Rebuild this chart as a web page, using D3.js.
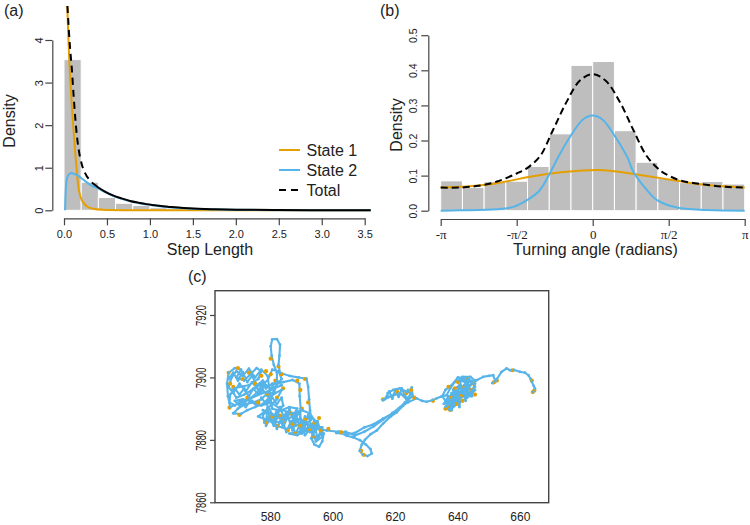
<!DOCTYPE html>
<html><head><meta charset="utf-8">
<script src="https://cdn.jsdelivr.net/npm/d3@7"></script>
<style>body{margin:0;background:#fff} svg{display:block}</style>
</head><body><svg id="c" width="750" height="525"></svg>
<script>
// ---------- DATA ----------
// (a) step length histogram (bin starts, width 0.2) and fitted densities
const stepBinStart = [0.0,0.2,0.4,0.6,0.8,1.0,1.2,1.4,1.6,1.8];
const stepDensity  = [3.54,0.66,0.30,0.165,0.115,0.06,0.035,0.02,0.012,0.008];
const stepBinWidth = 0.2;
const stepState1 = [[0.038,4.8],[0.045,4.4],[0.052,4.0],[0.062,3.5],[0.075,3.0],[0.09,2.5],[0.105,2.05],[0.12,1.65],[0.135,1.25],[0.148,0.95],[0.167,0.55],[0.19,0.33],[0.225,0.18],[0.27,0.09],[0.34,0.035],[0.45,0.012],[0.7,0.003],[1.0,0.001],[1.6,0],[3.57,0]];
const stepState2 = [[0.012,0],[0.018,0.35],[0.025,0.6],[0.035,0.74],[0.05,0.82],[0.07,0.86],[0.09,0.875],[0.11,0.86],[0.148,0.83],[0.2,0.76],[0.25,0.68],[0.32,0.58],[0.4,0.51],[0.477,0.43],[0.57,0.34],[0.67,0.27],[0.77,0.21],[0.865,0.17],[0.96,0.135],[1.06,0.11],[1.25,0.067],[1.45,0.04],[1.76,0.02],[2.0,0.012],[2.5,0.004],[3.0,0.002],[3.57,0.001]];
const stepTotal = [[0.04,4.8],[0.05,4.45],[0.062,4.05],[0.075,3.7],[0.09,3.35],[0.11,2.75],[0.13,2.2],[0.15,1.75],[0.17,1.44],[0.19,1.22],[0.21,1.06],[0.23,0.94],[0.26,0.82],[0.3,0.71],[0.35,0.61],[0.4,0.535],[0.477,0.44],[0.57,0.35],[0.67,0.28],[0.77,0.22],[0.865,0.18],[0.96,0.145],[1.06,0.12],[1.25,0.075],[1.45,0.047],[1.76,0.025],[2.0,0.015],[2.5,0.006],[3.0,0.003],[3.57,0.001]];
const stepTicks = [0,0.5,1.0,1.5,2.0,2.5,3.0,3.5];
const stepDensityTicks = [0,1,2,3,4];
const legendLabels = ["State 1","State 2","Total"];

// (b) turning angle histogram (14 bins from -pi to pi) and fitted densities
const angleBinStart = [-3.1416,-2.6928,-2.2440,-1.7952,-1.3464,-0.8976,-0.4488,0.0,0.4488,0.8976,1.3464,1.7952,2.2440,2.6928];
const angleDensity  = [0.085,0.066,0.083,0.084,0.126,0.219,0.414,0.425,0.228,0.138,0.092,0.080,0.083,0.076];
const angleBinWidth = 0.4488;
const angleState1 = [[-3.1416,0.066],[-2.6,0.069],[-1.98,0.078],[-1.3,0.097],[-0.61,0.11],[0.1,0.116],[0.36,0.114],[0.98,0.102],[1.67,0.087],[2.36,0.073],[3.1416,0.066]];
const angleState2 = [[-3.1416,0],[-2.76,0.001],[-1.98,0.004],[-1.64,0.011],[-1.3,0.035],[-1.09,0.059],[-0.85,0.116],[-0.71,0.154],[-0.4,0.225],[-0.2,0.26],[0,0.271],[0.2,0.26],[0.4,0.225],[0.71,0.154],[0.84,0.111],[1.12,0.059],[1.33,0.03],[1.74,0.009],[2.36,0.002],[3.1416,0]];
const angleTotal = [[-3.1416,0.066],[-2.75,0.066],[-2.36,0.071],[-1.98,0.083],[-1.57,0.106],[-1.37,0.12],[-1.09,0.155],[-0.82,0.23],[-0.54,0.31],[-0.27,0.37],[0,0.389],[0.27,0.37],[0.56,0.31],[0.84,0.23],[1.12,0.155],[1.4,0.114],[1.57,0.1],[1.81,0.086],[2.29,0.075],[2.75,0.068],[3.1416,0.066]];
const angleTicks = [-3.1416,-1.5708,0,1.5708,3.1416];
const angleTickLabels = ["-\u03c0","-\u03c0/2","0","\u03c0/2","\u03c0"];
const angleDensityTicks = [0,0.1,0.2,0.3,0.4,0.5];

// (c) track (x, y) and state-1 locations
const trackPoints = [
[566.5,7899.5],[568,7901.5],[569.5,7899],[571,7901.8],[572.5,7898.5],[574,7900.5],[575.5,7897.5],[577.5,7899],[578.5,7896.5],[580.5,7898],[581,7895.5],[579,7894],[577.5,7896],[576,7894.5],[574.5,7896.5],[573,7894],[571.5,7896.5],[570,7894.5],[568.5,7896.5],[567,7894.5],[566.8,7892],[568.5,7891],[570.5,7892.5],[572,7890.5],[573.5,7892.5],[575.5,7891],[577,7893.5],[578.5,7891.5],[580.5,7893.5],[582,7891.5],[583.5,7893.5],[584,7891],[582.5,7889.5],[580.5,7890],
[579,7900.5],[577,7902.5],[575,7900],[573,7902.8],[571,7900.5],[569,7902],[567.5,7900],[566.5,7897],[568,7895],[570,7898],[572,7895.5],[574,7898.5],[576,7896],[578,7898],[580,7896.5],[582,7899],[583.5,7897.5],
[567.0,7890.5],[566.3,7894.0],[566.0,7898.0],[566.5,7901.5],[568.5,7903.0],[570.5,7902.5],[569.0,7900.0],[571.5,7899.0],[573.5,7901.0],[575.5,7903.0],[577.0,7902.0],[576.0,7899.5],[573.0,7897.5],[570.0,7897.0],[567.5,7896.0],[569.0,7893.5],[571.5,7894.5],[574.0,7896.0],[576.5,7897.5],[579.0,7899.0],[580.5,7902.5],[582.5,7902.0],[583.5,7899.5],[581.5,7897.0],[579.0,7895.0],[577.0,7893.0],[574.5,7892.0],[572.0,7891.5],[569.5,7890.0],[568.0,7888.5],[570.5,7888.3],[572.5,7889.5],[575.0,7890.5],[577.5,7891.5],[579.5,7893.5],[581.5,7895.0],[583.5,7896.0],[582.0,7893.0],[580.0,7891.0],[578.0,7889.0],[576.0,7887.5],
[578.5,7886.5],[581.0,7888.0],[583.5,7889.5],[586.0,7890.5],[588.5,7890.0],[587.0,7887.5],[584.0,7886.0],[581.0,7885.5],[579.0,7886.5],[582.0,7884.5],[585.0,7883.5],[588.0,7884.5],[590.5,7886.0],[593.0,7887.5],[594.5,7886.0],[592.0,7884.0],[589.0,7882.5],[586.0,7882.0],[588.5,7881.5],[591.5,7883.0],[594.0,7884.5],[596.5,7884.0],[595.5,7881.5],[593.0,7880.5],[594.0,7878.5],[595.5,7877.8],[596.5,7879.5],[597.0,7882.0],[595.0,7885.0],[592.5,7888.5],[590.0,7889.5],[587.0,7888.5],[584.5,7887.5],[582.0,7887.0],[580.0,7888.5],[577.5,7889.5],
[579,7889],[580.5,7886],[582,7889.5],[583.5,7885.5],[585,7889],[586.5,7884.5],[588,7888.5],[589.5,7883.5],[591,7887.5],[592.5,7882.5],[594,7886],[595,7880],[596.5,7883.5],[595,7884.5],[593.5,7881.5],[591.5,7885.5],[590,7882],[588.5,7886.5],[587,7883],[585.5,7887.5],[584,7884],[582.5,7888],[581,7884.5],[579.5,7887.5],[578,7885.5],[577.5,7888],
[579.5,7890],[581.5,7886.5],[583,7890.5],[584.5,7886.5],[586,7890],[587.5,7885.5],[589,7889],[590.5,7884],[592,7888],[593.5,7883],[595,7886],[596.5,7881],[594.5,7879.5],[593,7884],[591,7881.5],[589.5,7885.5],[588,7881.8],[586.5,7886],[585,7882.5],[583.5,7887],[582,7883.5],[580.5,7888],[578.5,7884.5],
[579.0,7892.0],[581.0,7895.0],[582.0,7898.0],[582.0,7901.5],[581.0,7904.0],[580.3,7907.0],[580.0,7910.0],[580.5,7912.2],[582.0,7912.3],[583.0,7910.5],[582.8,7907.0],[582.5,7904.0],[583.0,7901.5],[586.0,7900.5],[589.0,7900.0],[591.5,7899.6],[592.0,7897.0],[592.3,7893.0],[592.6,7889.5],[593.0,7886.5],[591.0,7885.0],[589.5,7887.0],[589.6,7890.0],[589.3,7894.0],[589.2,7898.0],[587.0,7899.2],[584.0,7898.5],[581.0,7898.0],[578.0,7897.0],
[575.5,7895.0],[573.0,7893.0],[570.0,7891.0],[568.5,7892.5],[571.0,7893.0],[574.0,7892.5],[577.0,7891.0],[580.0,7892.0],[583.0,7890.0],[586.0,7888.5],[589.0,7886.5],[592.0,7885.0],[595.0,7883.5],
[598.0,7883.0],[601.7,7882.6],[604.4,7881.3],[606.5,7880.8],[608.6,7879.9],[610.5,7878.5],[612.0,7877.0],[612.4,7875.6],[611.0,7874.8],[609.5,7875.3],[608.5,7876.5],[609.2,7878.5],[610.2,7880.0],[612.0,7881.8],[614.0,7883.0],[616.1,7885.3],[618.5,7887.5],[620.4,7888.8],[622.5,7891.0],[624.1,7892.7],[623.0,7894.2],[621.0,7894.8],[618.5,7894.0],[616.0,7892.7],
[616.5,7893],[618,7895.5],[619,7893.2],[620,7896.2],[621,7893.8],[622,7896.5],[623,7894],[624,7896],[624.8,7894.5],[623.5,7893],[621.5,7895],[619.5,7894.5],[617.5,7893.5],
[617.5,7895.0],[619.3,7896.0],[621.4,7896.5],[623.6,7895.4],[625.2,7894.9],[625.2,7896.8],[625.5,7894.0],[623.0,7892.0],[621.0,7890.0],[619.0,7888.5],[616.0,7886.8],[613.0,7885.0],[610.0,7884.0],[607.0,7882.2],[604.0,7881.8],[601.0,7882.2],[604.0,7882.6],[607.0,7881.4],[610.0,7882.6],[613.0,7884.3],[616.0,7886.5],[619.0,7888.6],[621.5,7890.5],[624.0,7892.0],[626.8,7893.3],[628.5,7892.5],[630.0,7892.2],[632.0,7892.8],[633.2,7893.3],[634.5,7893.8],[636.4,7894.3],
[637.5,7896.5],[639.0,7898.5],[641.0,7899.5],[643.0,7899.0],[642.0,7896.5],[640.0,7895.0],[638.0,7893.0],[636.5,7891.0],[637.5,7889.8],[639.0,7891.5],[641.0,7893.5],[643.5,7895.0],[645.5,7897.0],[644.5,7898.8],[642.5,7900.0],[640.0,7900.0],[638.0,7897.5],[636.0,7896.0],[635.0,7894.0],[636.0,7892.5],[638.5,7894.5],[640.5,7896.5],[642.5,7897.5],[644.5,7896.0],[643.0,7893.5],[640.5,7892.0],[638.5,7890.5],[637.0,7889.8],[639.5,7893.0],[642.0,7895.5],[644.0,7897.5],
[635.5,7891.5],[637,7894],[636.5,7891],[638.5,7893.5],[637.5,7890],[639.5,7892.5],[638.5,7896],[640.5,7897.5],[639.5,7894],[641.5,7896],[640.5,7899],[642.5,7898.5],[641.5,7895],[643.5,7897],[642.5,7893.5],[644.5,7895.5],[645.5,7898],[643.5,7899.5],[642,7897.5],[640,7896],[638,7895],[637,7892.5],[636,7890.5],[638,7891.5],[640,7893],[642,7894.5],[644,7894],[645.5,7896],
[636.5,7893],[638,7889.5],[639,7894.5],[640.5,7890.5],[641,7897],[642.5,7892.5],[643,7899],[644.5,7894],[645.5,7899],[644,7900.2],[641.5,7900.2],[644.5,7898],
[646.0,7899.1],[648.1,7900.2],[650.0,7900.5],[651.3,7900.7],[652.0,7898.8],[651.0,7898.2],[652.5,7899.5],[654.0,7901.8],[655.6,7902.9],[656.7,7902.3],[658.0,7902.4],[659.9,7901.8],[661.5,7901.5],[662.6,7900.7],[663.3,7899.5],[663.7,7898.6],[664.3,7897.3],[664.7,7896.5],[664.2,7895.4]
];
const state1Points = [
[566.5,7901.5],[567,7898],[568,7897],[569.5,7903],[571,7899.5],[573,7901.5],[575,7898],[577,7900.5],[578.5,7902],[580,7901],[581.5,7899],[583.5,7901],[566.8,7890.3],[570,7888],[572.5,7893.5],[576,7892],[579,7894.5],[582,7893.5],[584,7896.5],[588.5,7899],[591,7899.5],[589.5,7896],[592,7892],[590,7890],
[578.5,7885.5],[580.5,7887.5],[582,7884.5],[584,7886],[585.5,7883],[587,7885],[588,7882],[589.5,7884.5],[591,7886.5],[592.5,7883.5],[594,7885.5],[595.5,7887],[593.5,7881],[596,7883],[586.5,7888.5],[583,7887.8],
[598.5,7883.5],[602.5,7882.5],[609,7876.5],[609.8,7875.2],[616,7893],[620.5,7895.5],[623.5,7895],[625,7896],[626,7893.5],[632,7892.5],
[636,7890],[636.5,7890.6],[637.5,7889.6],[638,7893.5],[639,7896.5],[640,7898.5],[641,7894],[642,7897],[643,7899.5],[644.5,7896],[645,7898],[637,7897],[639.5,7891.5],[641.5,7892.5],[645.5,7894.5],
[651.5,7898.4],[652.5,7899],[657.5,7902.3],[663.7,7899],[664,7895.3],[664.5,7895.8],[580,7906],[582.5,7903.5]
];
const trackXTicks = [580,600,620,640,660];
const trackYTicks = [7860,7880,7900,7920];

// ---------- STYLE ----------
const FONT = '"Liberation Sans", Arial, Helvetica, sans-serif';
const ORANGE = "#E69F00", BLUE = "#56B4E9", BAR = "#BEBEBE", AX = "#444", TXT = "#222";
const svg = d3.select("#c");

function styleAxis(g, size){
  g.selectAll("path,line").attr("stroke", AX).attr("stroke-width", 1.2);
  g.selectAll("text").attr("fill", TXT).style("font-size", (size||11)+"px").style("font-family", FONT);
}
function rotLabels(g, off){
  g.selectAll("text").attr("x",0).attr("dy","0").attr("text-anchor","middle")
    .attr("transform", `translate(${off},0) rotate(-90)`);
}
function label(txt, x, y, opts){
  opts = opts||{};
  const t = svg.append("text").text(txt).attr("x",x).attr("y",y)
    .attr("fill",TXT).style("font-family",FONT).style("font-size",(opts.size||16)+"px")
    .attr("text-anchor",opts.anchor||"start");
  if(opts.rot) t.attr("x",0).attr("y",0).attr("transform",`translate(${x},${y}) rotate(-90)`);
  return t;
}

// ---------- PANEL (a) ----------
const xA = d3.scaleLinear().domain([0,3.5]).range([64,364.7]);
const yA = d3.scaleLinear().domain([0,4]).range([210.3,40]);
const gA = svg.append("g");
gA.selectAll("rect").data(stepBinStart).join("rect")
  .attr("x", d=>xA(d)).attr("width", xA(stepBinWidth)-xA(0))
  .attr("y", (d,i)=>yA(stepDensity[i])).attr("height",(d,i)=>yA(0)-yA(stepDensity[i]))
  .attr("fill",BAR).attr("stroke","#fff").attr("stroke-width",1);
const lineA = d3.line().x(d=>xA(d[0])).y(d=>yA(d[1])).curve(d3.curveMonotoneX);
gA.append("path").attr("d",lineA(stepState1)).attr("fill","none").attr("stroke",ORANGE).attr("stroke-width",2);
gA.append("path").attr("d",lineA(stepState2)).attr("fill","none").attr("stroke",BLUE).attr("stroke-width",2);
const totA = gA.append("path").attr("d",lineA(stepTotal)).attr("fill","none").attr("stroke","#000").attr("stroke-width",2);
// dashes visible on the steep part only, solid on the flat tail (as in the reference)
(function(){
  const node = totA.node(), L = node.getTotalLength(), xCut = xA(0.27);
  let lo = 0, hi = L;
  for (let k=0;k<40;k++){ const m=(lo+hi)/2; if (node.getPointAtLength(m).x < xCut) lo=m; else hi=m; }
  const arr=[]; let s=0;
  while (s < lo){ arr.push(7,5); s+=12; }
  arr.push(L+20, 0);
  totA.attr("stroke-dasharray", arr.join(","));
})();

const axA = svg.append("g").attr("transform","translate(0,218.3)")
  .call(d3.axisBottom(xA).tickValues(stepTicks).tickFormat(d3.format(".1f")).tickSize(7).tickSizeOuter(0).tickPadding(5));
styleAxis(axA);
const ayA = svg.append("g").attr("transform","translate(52.3,0)")
  .call(d3.axisLeft(yA).tickValues(stepDensityTicks).tickFormat(d3.format("d")).tickSize(7).tickSizeOuter(0));
styleAxis(ayA); rotLabels(ayA,-9.5);
label("Density", 14.5, 121, {rot:true, anchor:"middle"});
label("Step Length", 210, 255, {anchor:"middle"});
label("(a)", 4, 16);
// legend
const legColors = [ORANGE, BLUE, "#000"];
legendLabels.forEach((t,i)=>{
  const y = 150 + i*20;
  svg.append("line").attr("x1",279).attr("x2",300).attr("y1",y).attr("y2",y)
    .attr("stroke",legColors[i]).attr("stroke-width",2).attr("stroke-dasharray", i===2?"7,5":null);
  label(t, 306.5, y+5.5);
});

// ---------- PANEL (b) ----------
const xB = d3.scaleLinear().domain([-Math.PI, Math.PI]).range([440.7,744.7]);
const yB = d3.scaleLinear().domain([0,0.5]).range([210.7,35.2]);
const gB = svg.append("g");
gB.selectAll("rect").data(angleBinStart).join("rect")
  .attr("x", d=>xB(d)).attr("width", xB(angleBinWidth)-xB(0))
  .attr("y", (d,i)=>yB(angleDensity[i])).attr("height",(d,i)=>yB(0)-yB(angleDensity[i]))
  .attr("fill",BAR).attr("stroke","#fff").attr("stroke-width",1);
const lineB = d3.line().x(d=>xB(d[0])).y(d=>yB(d[1])).curve(d3.curveCatmullRom.alpha(0.5));
gB.append("path").attr("d",lineB(angleState1)).attr("fill","none").attr("stroke",ORANGE).attr("stroke-width",2);
gB.append("path").attr("d",lineB(angleState2)).attr("fill","none").attr("stroke",BLUE).attr("stroke-width",2);
gB.append("path").attr("d",lineB(angleTotal)).attr("fill","none").attr("stroke","#000").attr("stroke-width",2).attr("stroke-dasharray","7,4");

const axB = svg.append("g").attr("transform","translate(0,219)")
  .call(d3.axisBottom(xB).tickValues(angleTicks).tickFormat((d,i)=>angleTickLabels[i]).tickSize(7).tickSizeOuter(0).tickPadding(4));
styleAxis(axB, 13);
axB.selectAll("text").style("font-family",'"Liberation Serif", "DejaVu Serif", serif');
const ayB = svg.append("g").attr("transform","translate(428.3,0)")
  .call(d3.axisLeft(yB).tickValues(angleDensityTicks).tickFormat(d3.format(".1f")).tickSize(7).tickSizeOuter(0));
styleAxis(ayB, 10.5); rotLabels(ayB,-11.5);
label("Density", 401.5, 125, {rot:true, anchor:"middle"});
label("Turning angle (radians)", 595.5, 255, {anchor:"middle"});
label("(b)", 380, 16);

// ---------- PANEL (c) ----------
const xC = d3.scaleLinear().domain([580,660]).range([270.7,520.3]);
const yC = d3.scaleLinear().domain([7860,7920]).range([502.3,315]);
svg.append("rect").attr("x",215).attr("y",290.7).attr("width",333.7).attr("height",212)
  .attr("fill","none").attr("stroke",AX).attr("stroke-width",1.4);
const gC = svg.append("g");
const lineC = d3.line().x(d=>xC(d[0])).y(d=>yC(d[1]));
gC.append("path").attr("d",lineC(trackPoints)).attr("fill","none").attr("stroke",BLUE).attr("stroke-width",2.1).attr("stroke-linejoin","round");
gC.selectAll("circle.s1").data(state1Points).join("circle").attr("class","s1")
  .attr("cx",d=>xC(d[0])).attr("cy",d=>yC(d[1])).attr("r",2.1).attr("fill",ORANGE);
gC.selectAll("circle.s2").data(trackPoints).join("circle").attr("class","s2")
  .attr("cx",d=>xC(d[0])).attr("cy",d=>yC(d[1])).attr("r",1.4).attr("fill",BLUE);

const ayC = svg.append("g").attr("transform","translate(215,0)")
  .call(d3.axisLeft(yC).tickValues(trackYTicks).tickFormat(d3.format("d")).tickSize(5).tickSizeOuter(0));
styleAxis(ayC, 11);
ayC.select(".domain").remove();
ayC.selectAll("text").attr("x",0).attr("dy","0").attr("text-anchor","middle")
  .attr("transform","translate(-9,0) rotate(-90) scale(0.85,1.3)");
svg.append("g").selectAll("text").data(trackXTicks).join("text")
  .attr("x",d=>xC(d)).attr("y",521).attr("text-anchor","middle")
  .attr("fill",TXT).style("font-family",FONT).style("font-size","12px").text(d=>d);
label("(c)", 188, 282);
</script></body></html>
